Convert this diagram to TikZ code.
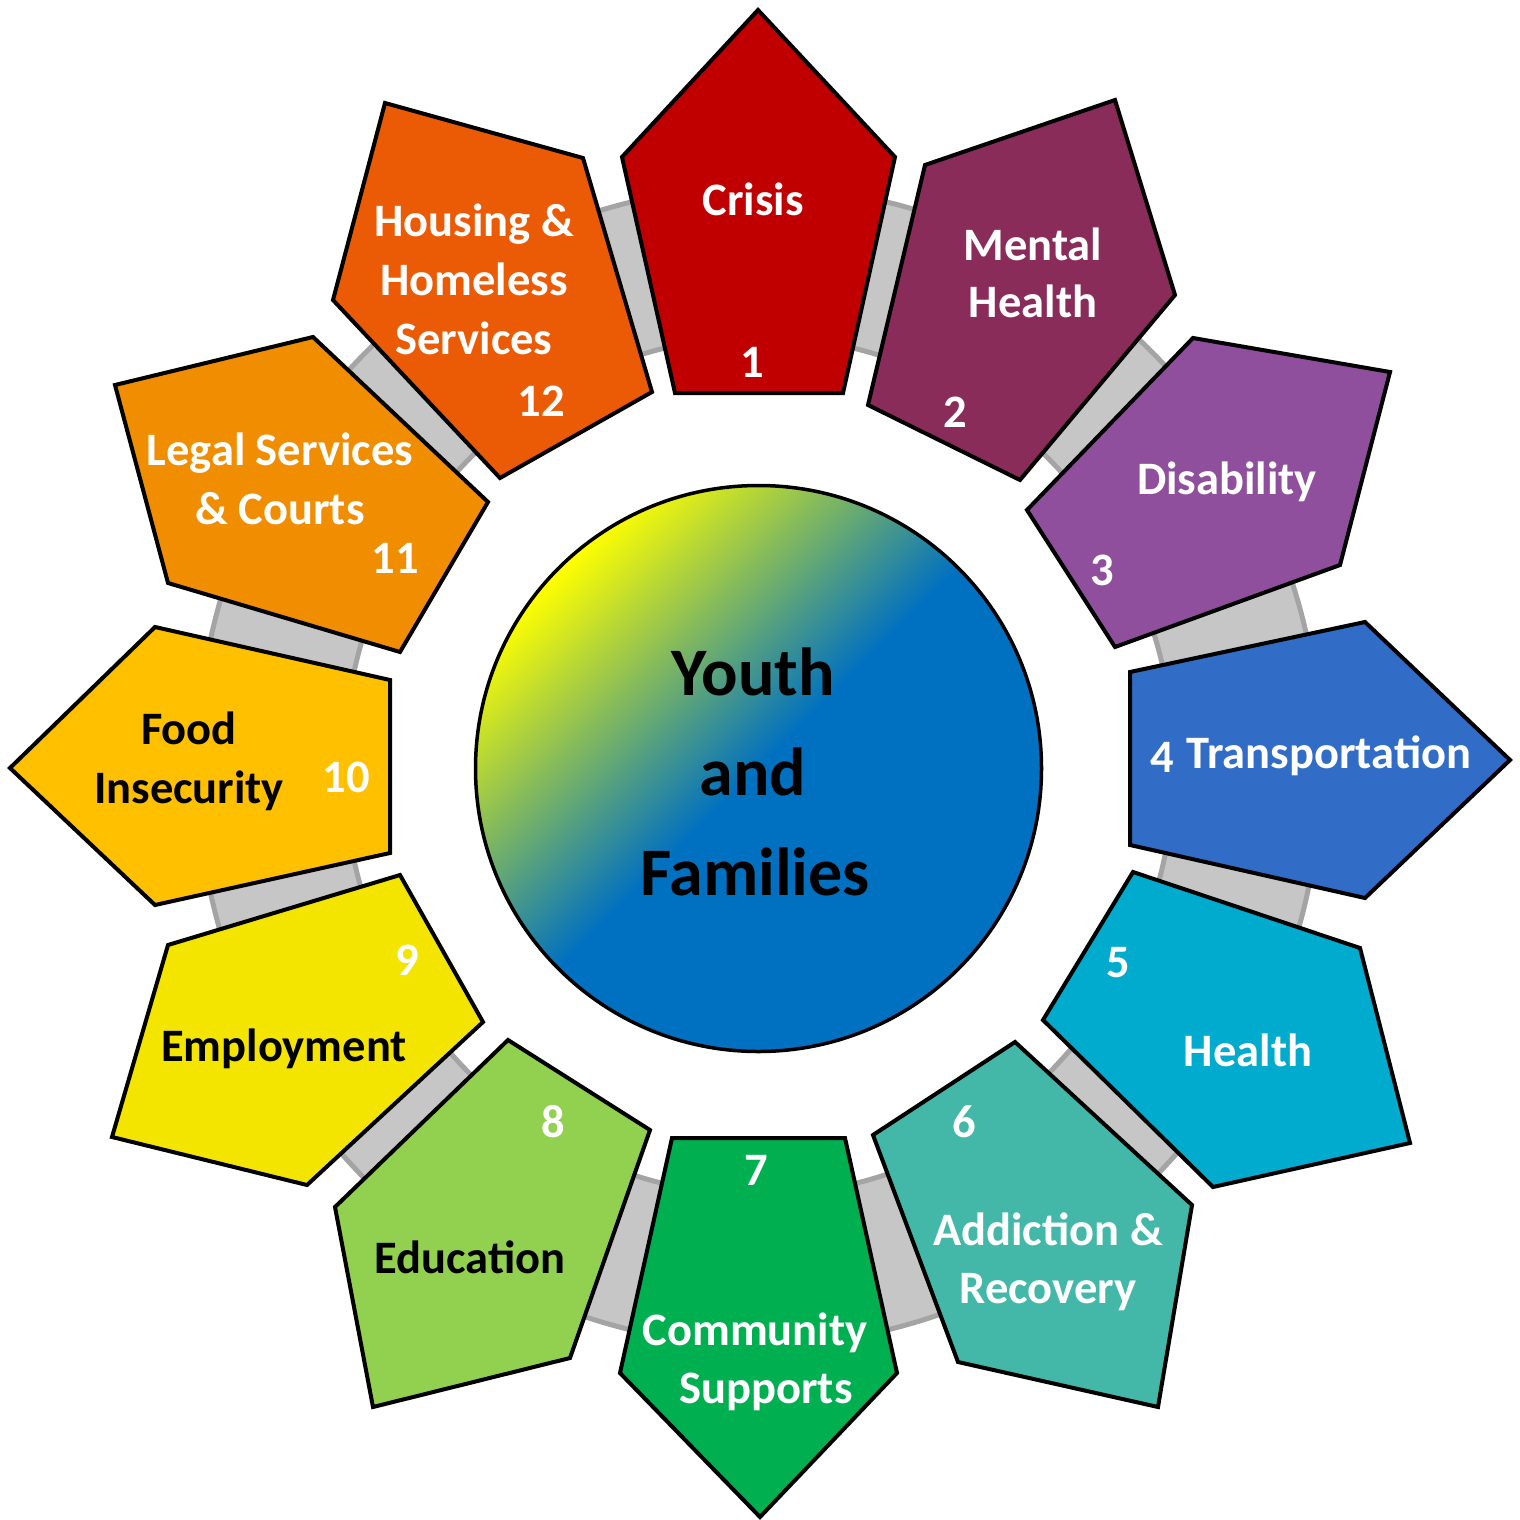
\documentclass[tikz,border=0pt]{standalone}
\usepackage{fontspec}
\setmainfont{Carlito}
\definecolor{cA}{HTML}{C00000}
\definecolor{cB}{HTML}{8A2C5A}
\definecolor{cC}{HTML}{8F4F9D}
\definecolor{cD}{HTML}{316DC6}
\definecolor{cE}{HTML}{00ABCD}
\definecolor{cF}{HTML}{44B8A8}
\definecolor{cG}{HTML}{00B050}
\definecolor{cH}{HTML}{92D050}
\definecolor{cI}{HTML}{F3E500}
\definecolor{cJ}{HTML}{FFC000}
\definecolor{cK}{HTML}{F08D00}
\definecolor{cL}{HTML}{EB5B05}
\definecolor{ringgray}{HTML}{C6C6C6}
\definecolor{ringedge}{HTML}{A4A4A4}
\definecolor{cyel}{HTML}{FFFF00}
\definecolor{cblu}{HTML}{0070C0}
\pgfdeclareverticalshading{ybshade}{100bp}{color(0bp)=(cblu); color(50bp)=(cblu); color(75bp)=(cyel); color(100bp)=(cyel)}
\tikzset{
  lbl/.style={font=\fontsize{46.5}{58}\selectfont\bfseries, text=white, anchor=base, inner sep=0pt},
  dlbl/.style={lbl, text=black},
  clbl/.style={font=\fontsize{68}{100}\selectfont\bfseries, text=black, anchor=base, inner sep=0pt},
  pent/.style={draw=black, line width=4pt, line join=miter},
}
\begin{document}
\begin{tikzpicture}[x=1pt,y=-1pt]
\useasboundingbox (0,0) rectangle (1520,1520);
% gray ring
\fill[ringgray, even odd rule] (759,766) ellipse [x radius=562pt, y radius=579pt]
  (759,766) ellipse [x radius=415pt, y radius=429pt];
\draw[ringedge, line width=5pt] (759,766) ellipse [x radius=562pt, y radius=579pt];
\draw[ringedge, line width=5pt] (759,766) ellipse [x radius=415pt, y radius=429pt];
% pentagons
\path[pent, fill=cA] (758,10) -- (895,157) -- (843,393) -- (675,393) -- (622,157) -- cycle;
\path[pent, fill=cB] (1115,100) -- (1175,295) -- (1020,480) -- (868,405) -- (925,165) -- cycle;
\path[pent, fill=cC] (1390,372) -- (1340,565) -- (1115,647) -- (1027,510) -- (1193,338) -- cycle;
\path[pent, fill=cD] (1510,760) -- (1365,898) -- (1130,845) -- (1130,672) -- (1365,622) -- cycle;
\path[pent, fill=cE] (1410,1143) -- (1213,1187) -- (1043,1020) -- (1133,872) -- (1360,948) -- cycle;
\path[pent, fill=cF] (1158,1407) -- (958,1362) -- (873,1135) -- (1015,1042) -- (1192,1205) -- cycle;
\path[pent, fill=cG] (760,1517) -- (620,1373) -- (672,1138) -- (845,1138) -- (897,1373) -- cycle;
\path[pent, fill=cH] (373,1407) -- (335,1207) -- (508,1040) -- (650,1130) -- (570,1358) -- cycle;
\path[pent, fill=cI] (112,1137) -- (168,945) -- (400,875) -- (483,1022) -- (307,1185) -- cycle;
\path[pent, fill=cJ] (10,768) -- (155,627) -- (390,680) -- (390,853) -- (155,905) -- cycle;
\path[pent, fill=cK] (115,385) -- (313,337) -- (488,502) -- (400,652) -- (168,583) -- cycle;
\path[pent, fill=cL] (385,103) -- (583,158) -- (652,392) -- (500,478) -- (333,300) -- cycle;
% centre circle
\node[circle, minimum size=566pt, inner sep=0pt, draw=black, line width=3.5pt, shading=ybshade, shading angle=45] (hub) at (758.5,768.5) {};
\node[clbl] (hubA) at (753,695) {Youth};
\node[clbl] (hubB) at (753,795) {and};
\node[clbl] (hubC) at (755,895) {Families};
% labels
\node[lbl] (t1) at (753,215) {Crisis};
\node[lbl] (n1) at (752,377) {1};
\node[lbl] (t2a) at (1033,260) {Mental};
\node[lbl] (t2b) at (1033,317) {Health};
\node[lbl] (n2) at (955,427) {2};
\node[lbl] (t3) at (1227,494) {Disability};
\node[lbl] (n3) at (1102,585) {3};
\node[lbl] (n4) at (1162,772) {4};
\node[lbl] (t4) at (1329,768) {Transportation};
\node[lbl] (n5) at (1118,977) {5};
\node[lbl] (t5) at (1248,1066) {Health};
\node[lbl] (n6) at (964,1137) {6};
\node[lbl] (t6a) at (1048,1245) {Addiction \&};
\node[lbl] (t6b) at (1048,1303) {Recovery};
\node[lbl] (n7) at (756,1185) {7};
\node[lbl] (t7a) at (755,1345) {Community};
\node[lbl] (t7b) at (766,1403) {Supports};
\node[lbl] (n8) at (553,1137) {8};
\node[dlbl] (t8) at (470,1273) {Education};
\node[lbl] (n9) at (407,975) {9};
\node[dlbl] (t9) at (284,1061) {Employment};
\node[dlbl] (t10a) at (189,744) {Food};
\node[dlbl] (t10b) at (189,803) {Insecurity};
\node[lbl] (n10) at (346,792) {10};
\node[lbl] (t11a) at (280,465) {Legal Services};
\node[lbl] (t11b) at (280,524) {\& Courts};
\node[lbl] (n11) at (395,573) {11};
\node[lbl] (t12a) at (474,236) {Housing \&};
\node[lbl] (t12b) at (474,295) {Homeless};
\node[lbl] (t12c) at (474,354) {Services};
\node[lbl] (n12) at (541,416) {12};
\end{tikzpicture}
\end{document}
